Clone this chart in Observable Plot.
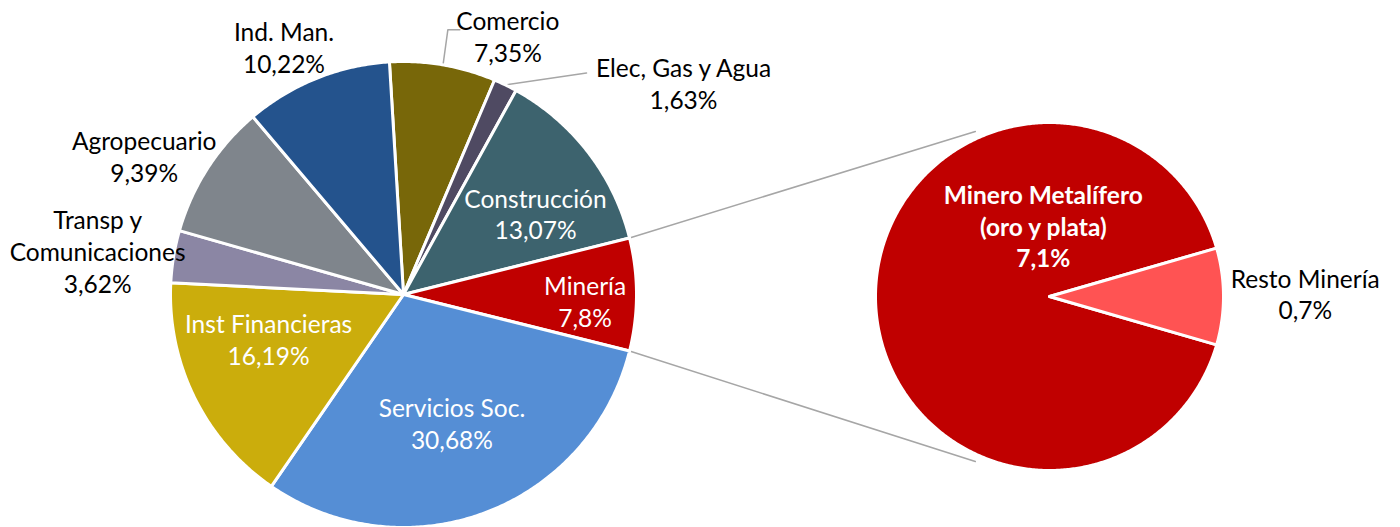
<!DOCTYPE html>
<html><head><meta charset="utf-8">
<script src="https://cdn.jsdelivr.net/npm/d3@7"></script>
<script src="https://cdn.jsdelivr.net/npm/@observablehq/plot@0.6"></script>
<style>body{margin:0;background:#fff}</style>
</head><body><div id="chart"></div>
<script>
// ---- data ----
const sectors = ["Comercio","Elec, Gas y Agua","Construcción","Minería","Servicios Soc.","Inst Financieras","Transp y Comunicaciones","Agropecuario","Ind. Man."];
const sectorLabels = ["Comercio","Elec, Gas y Agua","Construcción","Minería","Servicios Soc.","Inst Financieras","Transp y\nComunicaciones","Agropecuario","Ind. Man."];
const shares = [7.35,1.63,13.07,7.8,30.68,16.19,3.62,9.39,10.22];
const shareLabels = ["7,35%","1,63%","13,07%","7,8%","30,68%","16,19%","3,62%","9,39%","10,22%"];
const sectorColors = ["#786709","#4F4A62","#3D636E","#C00000","#558ED5","#CBAD0C","#8B86A4","#7F858C","#24538D"];
const miningParts = ["Minero Metalífero\n(oro y plata)","Resto Minería"];
const miningShares = [7.1, 0.7];
const miningLabels = ["7,1%","0,7%"];
const miningColors = ["#C00000","#FF5353"];

// ---- layout ----
const W = 1400, H = 527;
const main = {cx: 403, cy: 294, r: 233};
const sub = {cx: 1049, cy: 296, r: 174};
// label placement: radius factor, angle delta (deg) from slice mid-angle
const labelLayout = [
  {rf:1.197, da:12.2, inside:false},
  {rf:1.506, da:27, inside:false},
  {rf:0.665, da:6, inside:true},
  {rf:0.78, da:2, inside:true},
  {rf:0.588, da:0, inside:true},
  {rf:0.61, da:8, inside:true},
  {rf:1.326, da:-1.3, inside:false},
  {rf:1.262, da:-4.7, inside:false},
  {rf:1.18, da:-3.9, inside:false}
];
const subLabelLayout = [
  {rf:0.41, da:85, inside:true, bold:true},
  {rf:1.47, da:-0.7, inside:false, bold:false}
];

const rad = d => d * Math.PI / 180;
const pt = (c, a, rr) => [c.cx + rr * Math.sin(a), c.cy - rr * Math.cos(a)];

function pieArcs(values, centerIndex) {
  const total = d3.sum(values);
  const before = d3.sum(values.slice(0, centerIndex)) + values[centerIndex] / 2;
  const start = Math.PI / 2 - before / total * 2 * Math.PI;
  return d3.pie().sort(null).value(d => d).startAngle(start).endAngle(start + 2 * Math.PI)(values);
}
function slicePolygon(c, arc, id, color) {
  const pts = [];
  const steps = Math.max(2, Math.ceil((arc.endAngle - arc.startAngle) / rad(0.5)));
  pts.push(pt(c, 0, 0));
  for (let i = 0; i <= steps; i++) {
    const a = arc.startAngle + (arc.endAngle - arc.startAngle) * i / steps;
    pts.push(pt(c, a, c.r));
  }
  pts.push(pt(c, 0, 0));
  return pts.map(([x, y]) => ({x, y, id, color}));
}

const mainArcs = pieArcs(shares, 3);
const subArcs = pieArcs(miningShares, 1);

const polys = [];
mainArcs.forEach((a, i) => polys.push(...slicePolygon(main, a, "m" + i, sectorColors[i])));
subArcs.forEach((a, i) => polys.push(...slicePolygon(sub, a, "s" + i, miningColors[i])));

const labels = [];
mainArcs.forEach((a, i) => {
  const L = labelLayout[i];
  const mid = (a.startAngle + a.endAngle) / 2 + rad(L.da);
  const [x, y] = pt(main, mid, main.r * L.rf);
  labels.push({x, y, text: sectorLabels[i] + "\n" + shareLabels[i], fill: L.inside ? "#FFFFFF" : "#000000", bold: false});
});
subArcs.forEach((a, i) => {
  const L = subLabelLayout[i];
  const mid = (a.startAngle + a.endAngle) / 2 + rad(L.da);
  const [x, y] = pt(sub, mid, sub.r * L.rf);
  labels.push({x, y, text: miningParts[i] + "\n" + miningLabels[i], fill: L.inside ? "#FFFFFF" : "#000000", bold: L.bold});
});

// leader lines
const leaders = [];
{
  const a = mainArcs[0], mid = (a.startAngle + a.endAngle) / 2;
  const s = pt(main, mid, main.r);
  const lb = labels[0];
  [[s[0], s[1]], [lb.x - 60, lb.y - 6], [lb.x - 48, lb.y - 6]].forEach(([x, y]) => leaders.push({x, y, id: "c"}));
}
{
  const a = mainArcs[1], mid = (a.startAngle + a.endAngle) / 2;
  const s = pt(main, mid, main.r);
  const lb = labels[1];
  [[s[0], s[1]], [lb.x - 97, lb.y - 10]].forEach(([x, y]) => leaders.push({x, y, id: "e"}));
}
// pie-of-pie connectors
{
  const m = mainArcs[3];
  const p1 = pt(main, m.startAngle, main.r), q1 = pt(sub, rad(-24.2), sub.r * 1.04);
  const p2 = pt(main, m.endAngle, main.r), q2 = pt(sub, rad(204.2), sub.r * 1.04);
  [p1, q1].forEach(([x, y]) => leaders.push({x, y, id: "u"}));
  [p2, q2].forEach(([x, y]) => leaders.push({x, y, id: "l"}));
}

const textOpts = {x: "x", y: "y", text: "text", fill: "fill", fontSize: 24.5, lineHeight: 1.3, lineAnchor: "middle", textAnchor: "middle", fontFamily: "Lato"};

const chart = Plot.plot({
  width: W, height: H, margin: 0,
  x: {domain: [0, W], axis: null},
  y: {domain: [0, H], range: [0, H], axis: null},
  color: {type: "identity"},
  style: {fontFamily: "Lato, sans-serif", background: "#fff"},
  marks: [
    Plot.line(leaders, {x: "x", y: "y", z: "id", stroke: "#A6A6A6", strokeWidth: 1.5}),
    Plot.line(polys, {x: "x", y: "y", z: "id", fill: "color", stroke: "#FFFFFF", strokeWidth: 3, strokeLinejoin: "round", curve: "linear"}),
    Plot.text(labels.filter(d => !d.bold), textOpts),
    Plot.text(labels.filter(d => d.bold), {...textOpts, fontWeight: "bold"})
  ]
});
document.getElementById("chart").appendChild(chart);
</script>
</body></html>
